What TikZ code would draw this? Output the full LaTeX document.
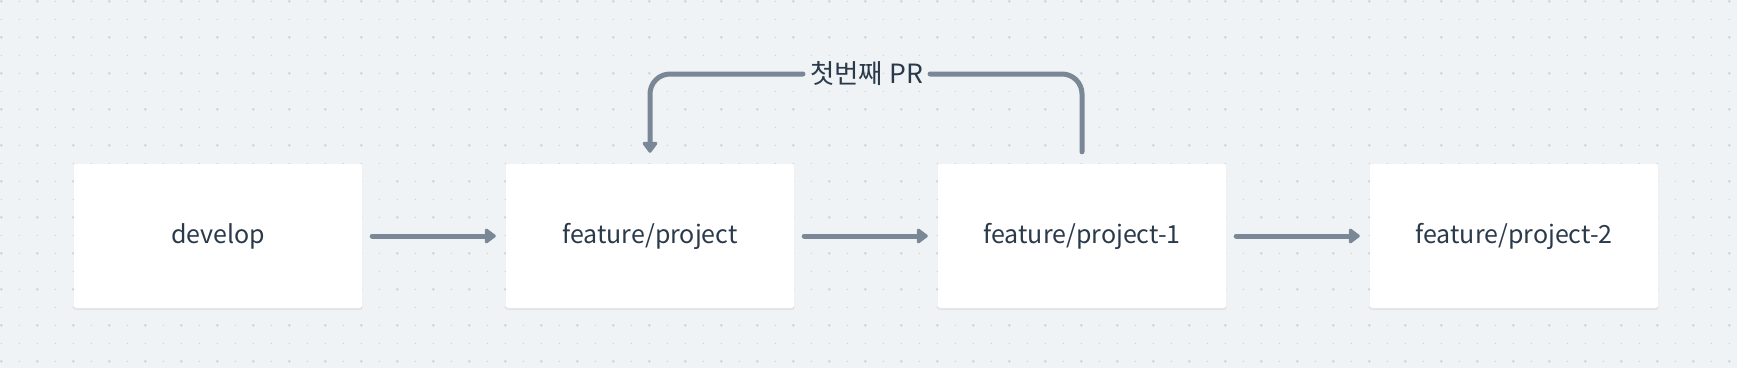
\documentclass[tikz,border=0pt]{standalone}
\usepackage{fontspec}
\setmainfont{Noto Sans CJK KR}
\usetikzlibrary{arrows.meta,shadows}
\definecolor{bg}{HTML}{EFF3F6}
\definecolor{dotc}{HTML}{CBD4DF}
\definecolor{txt}{HTML}{2B3A4A}
\definecolor{conn}{HTML}{798796}
\tikzset{
  boxnode/.style={draw=none, fill=white, rounded corners=2pt, minimum width=288pt, minimum height=144pt,
    inner sep=0pt, text=txt, font=\fontsize{25}{29}\selectfont,
    drop shadow={shadow xshift=0pt, shadow yshift=-2pt, opacity=0.06, fill=black}},
  connline/.style={draw=conn, line width=5pt, line cap=round, line join=round},
  arr/.style={connline, -{Triangle[length=12pt,width=17pt,round]}},
  lbl/.style={text=txt, font=\fontsize{26.5}{30}\selectfont, inner sep=0pt}
}
\begin{document}
\begin{tikzpicture}[x=1pt,y=1pt]
\useasboundingbox (0,0) rectangle (1737,-368);
\fill[bg] (0,0) rectangle (1737,-368);
\foreach \i in {0,...,96} {
  \foreach \j in {0,...,20} {
    \pgfmathtruncatemacro{\big}{(mod(\i,2)==0 && mod(\j,2)==0) ? 1 : 0}
    \ifnum\big=1
      \fill[dotc] (1.3+18*\i,-1.3-18*\j) circle (1.4);
    \else
      \fill[dotc] (1.3+18*\i,-1.3-18*\j) circle (0.7);
    \fi
  }
}
\node[boxnode] (dev) at (218,-236) {develop};
\node[boxnode] (p) at (650,-236) {feature/project};
\node[boxnode] (p1) at (1082,-236) {feature/project-1};
\node[boxnode] (p2) at (1514,-236) {feature/project-2};
\node[lbl] (pr) at (866.5,-74) {첫번째 PR};
\draw[arr, shorten <=10pt, shorten >=10pt] (dev.east) -- (p.west);
\draw[arr, shorten <=10pt, shorten >=10pt] (p.east) -- (p1.west);
\draw[arr, shorten <=10pt, shorten >=10pt] (p1.east) -- (p2.west);
\draw[connline, rounded corners=20pt, shorten <=12pt, shorten >=7pt] (p1.north) |- (pr.east);
\draw[arr, rounded corners=20pt, shorten <=7pt, shorten >=11pt] (pr.west) -| (p.north);
\end{tikzpicture}
\end{document}
